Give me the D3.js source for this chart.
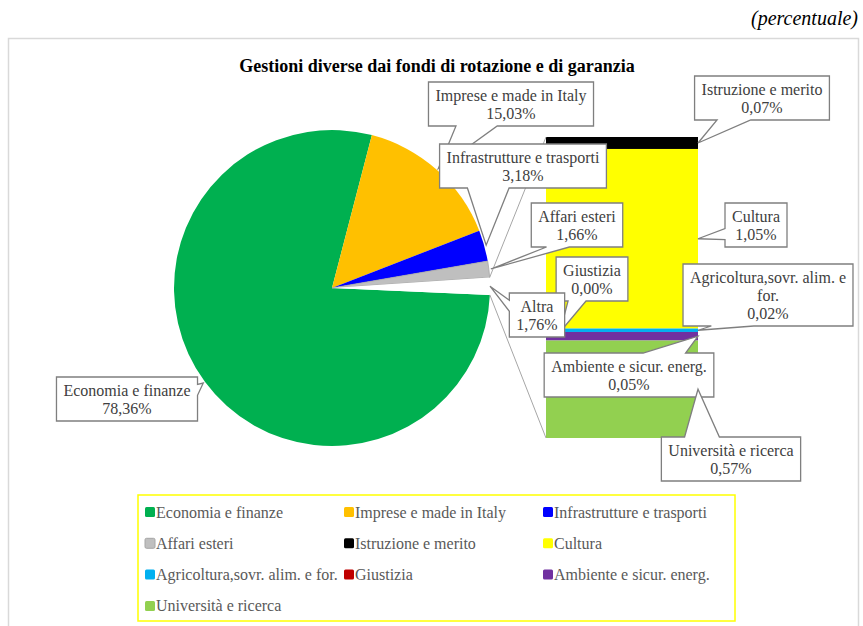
<!DOCTYPE html>
<html>
<head>
<meta charset="utf-8">
<script src="https://cdn.jsdelivr.net/npm/d3@7"></script>
<style>
  body { margin: 0; background: #fff; }
  svg text { font-family: "Liberation Serif", "Tinos", "DejaVu Serif", serif; }
</style>
</head>
<body>
<svg id="chart" width="863" height="626"></svg>
<script>
// pie part (last one is the "other" slice that opens into the bar)
const pieLabels = ["Economia e finanze", "Imprese e made in Italy", "Infrastrutture e trasporti", "Affari esteri", "Altra"];
const pieValues = [78.36, 15.03, 3.18, 1.66, 1.76];

// bar part, top to bottom
const barLabels = ["Istruzione e merito", "Cultura", "Agricoltura,sovr. alim. e for.", "Giustizia", "Ambiente e sicur. energ.", "Università e ricerca"];
const barValues = [0.07, 1.05, 0.02, 0.00, 0.05, 0.57];

const legendLabels = ["Economia e finanze", "Imprese e made in Italy", "Infrastrutture e trasporti",
  "Affari esteri", "Istruzione e merito", "Cultura",
  "Agricoltura,sovr. alim. e for.", "Giustizia", "Ambiente e sicur. energ.",
  "Università e ricerca"];

const colors = {
  "Economia e finanze": "#00B050",
  "Imprese e made in Italy": "#FFC000",
  "Infrastrutture e trasporti": "#0000FF",
  "Affari esteri": "#BFBFBF",
  "Istruzione e merito": "#000000",
  "Cultura": "#FFFF00",
  "Agricoltura,sovr. alim. e for.": "#00B0F0",
  "Giustizia": "#C00000",
  "Ambiente e sicur. energ.": "#7030A0",
  "Università e ricerca": "#92D050",
  "Altra": "#FFFFFF"
};

// where each callout box sits (centre), layout only
const boxPos = {
  "Economia e finanze": [127, 399],
  "Imprese e made in Italy": [511, 104],
  "Infrastrutture e trasporti": [523, 166],
  "Affari esteri": [577, 225],
  "Altra": [537, 315],
  "Istruzione e merito": [762, 98],
  "Cultura": [756, 225],
  "Giustizia": [592, 279],
  "Agricoltura,sovr. alim. e for.": [768, 295],
  "Ambiente e sicur. energ.": [629, 375],
  "Università e ricerca": [731, 459]
};

const svg = d3.select("#chart");
const fmt = v => d3.format(".2f")(v).replace(".", ",") + "%";
const fs = 16;

// frame + headings
svg.append("rect")
  .attr("x", 8.5).attr("y", 38.5).attr("width", 850).attr("height", 620)
  .attr("fill", "none").attr("stroke", "#D9D9D9").attr("stroke-width", 1.5);

svg.append("text")
  .attr("x", 858).attr("y", 25)
  .attr("text-anchor", "end")
  .attr("font-style", "italic").attr("font-size", 20)
  .text("(percentuale)");

svg.append("text")
  .attr("x", 437).attr("y", 72)
  .attr("text-anchor", "middle")
  .attr("font-weight", "bold").attr("font-size", 18)
  .text("Gestioni diverse dai fondi di rotazione e di garanzia");

// pie
const cx = 332, cy = 288, r = 158;
const pieData = pieLabels.map((l, i) => ({label: l, value: pieValues[i]}));
const start = 92.5 * Math.PI / 180;
const pie = d3.pie().sort(null).value(d => d.value)
  .startAngle(start).endAngle(start + 2 * Math.PI);
const arcs = pie(pieData);
const arc = d3.arc().innerRadius(0).outerRadius(r);

const pieG = svg.append("g").attr("transform", `translate(${cx},${cy})`);
pieG.selectAll("path")
  .data(arcs)
  .enter()
  .append("path")
  .attr("d", arc)
  .attr("fill", d => colors[d.data.label])
  .attr("stroke", d => d.data.label == "Affari esteri" ? "#A6A6A6" : "none")
  .attr("stroke-width", 0.8);

// bar
const barX0 = 546, barX1 = 698;
const y = d3.scaleLinear().domain([0, d3.sum(barValues)]).range([137, 438]);
let cum = 0;
const barData = barLabels.map((l, i) => {
  const d = {label: l, value: barValues[i], y0: cum, y1: cum + barValues[i]};
  cum += barValues[i];
  return d;
});

svg.append("g")
  .selectAll("rect")
  .data(barData)
  .enter()
  .append("rect")
  .attr("x", barX0)
  .attr("width", barX1 - barX0)
  .attr("y", d => y(d.y0))
  .attr("height", d => y(d.y1) - y(d.y0))
  .attr("fill", d => colors[d.label]);

// series lines from the "other" slice to the bar
const other = arcs[arcs.length - 1];
const onCircle = a => [cx + r * Math.sin(a), cy - r * Math.cos(a)];
const p0 = onCircle(other.startAngle), p1 = onCircle(other.endAngle);
svg.append("line")
  .attr("x1", p0[0]).attr("y1", p0[1]).attr("x2", barX0).attr("y2", y(0))
  .attr("stroke", "#A6A6A6").attr("stroke-width", 1);
svg.append("line")
  .attr("x1", p1[0]).attr("y1", p1[1]).attr("x2", barX0).attr("y2", y(d3.sum(barValues)))
  .attr("stroke", "#A6A6A6").attr("stroke-width", 1);

// callout targets
const targets = {};
arcs.forEach(d => {
  const a = (d.startAngle + d.endAngle) / 2;
  const rr = d.data.label == "Altra" ? r : r + 2;
  targets[d.data.label] = [cx + rr * Math.sin(a), cy - rr * Math.cos(a)];
});
barData.forEach(d => {
  const ym = (y(d.y0) + y(d.y1)) / 2;
  targets[d.label] = d.label == "Giustizia" ? [barX0 + 14, ym] : [barX1, ym];
});

function calloutPath(x, yy, w, h, tx, ty) {
  const hc = x + w / 2, vc = yy + h / 2;
  const dxPos = tx - hc, dyPos = ty - vc;
  const dz = Math.abs(dyPos) - Math.abs(dxPos * h / w);
  const xa = x + w * (dxPos > 0 ? 7 : 2) / 12, xb = x + w * (dxPos > 0 ? 10 : 5) / 12;
  const ya = yy + h * (dyPos > 0 ? 7 : 2) / 12, yb = yy + h * (dyPos > 0 ? 10 : 5) / 12;
  let p = `M${x},${yy}`;
  if (dz > 0 && dyPos < 0) p += `L${xa},${yy}L${tx},${ty}L${xb},${yy}`;
  p += `L${x + w},${yy}`;
  if (dz <= 0 && dxPos > 0) p += `L${x + w},${ya}L${tx},${ty}L${x + w},${yb}`;
  p += `L${x + w},${yy + h}`;
  if (dz > 0 && dyPos > 0) p += `L${xb},${yy + h}L${tx},${ty}L${xa},${yy + h}`;
  p += `L${x},${yy + h}`;
  if (dz <= 0 && dxPos < 0) p += `L${x},${yb}L${tx},${ty}L${x},${ya}`;
  return p + "Z";
}

// wrap words into lines no wider than maxW
const measure = svg.append("text").attr("font-size", fs).attr("visibility", "hidden");
function textW(s) { measure.text(s); return measure.node().getComputedTextLength(); }
function wrap(s, maxW) {
  const words = s.split(" ");
  const lines = [];
  let cur = "";
  words.forEach(w => {
    const t = cur ? cur + " " + w : w;
    if (cur && textW(t) > maxW) { lines.push(cur); cur = w; } else cur = t;
  });
  lines.push(cur);
  return lines;
}

const valueOf = {};
pieLabels.forEach((l, i) => valueOf[l] = pieValues[i]);
barLabels.forEach((l, i) => valueOf[l] = barValues[i]);

// drawing order as in the source: legend order, "Altra" last
const calloutOrder = legendLabels.concat(["Altra"]);
const lineH = 18;
const labelG = svg.append("g");
calloutOrder.forEach(name => {
  const lines = wrap(name, 162).concat([fmt(valueOf[name])]);
  const w = d3.max(lines, textW) + 14;
  const h = lines.length * lineH + 8;
  const [bx, by] = boxPos[name];
  const x = bx - w / 2, yy = by - h / 2;
  const [tx, ty] = targets[name];
  const g = labelG.append("g");
  g.append("path")
    .attr("d", calloutPath(x, yy, w, h, tx, ty))
    .attr("fill", "#fff").attr("stroke", "#7F7F7F").attr("stroke-width", 1.3)
    .attr("stroke-linejoin", "miter");
  g.selectAll("text")
    .data(lines)
    .enter()
    .append("text")
    .attr("x", bx)
    .attr("y", (d, i) => yy + 4 + i * lineH + 14.5)
    .attr("text-anchor", "middle")
    .attr("font-size", fs)
    .attr("fill", "#404040")
    .text(d => d);
});

// legend
svg.append("rect")
  .attr("x", 138).attr("y", 495).attr("width", 597).attr("height", 126)
  .attr("fill", "none").attr("stroke", "#FFFF00").attr("stroke-width", 1.5);

const leg = svg.append("g")
  .selectAll("g")
  .data(legendLabels)
  .enter()
  .append("g")
  .attr("transform", (d, i) => `translate(${145 + (i % 3) * 199},${512 + Math.floor(i / 3) * 31.3})`);
leg.append("rect")
  .attr("x", 0).attr("y", -5).attr("width", 10).attr("height", 10)
  .attr("rx", 1.5)
  .attr("fill", d => colors[d])
  .attr("stroke", d => d == "Affari esteri" ? "#A6A6A6" : "none");
leg.append("text")
  .attr("x", 11).attr("y", 5.5)
  .attr("font-size", fs)
  .attr("fill", "#595959")
  .text(d => d);
</script>
</body>
</html>
